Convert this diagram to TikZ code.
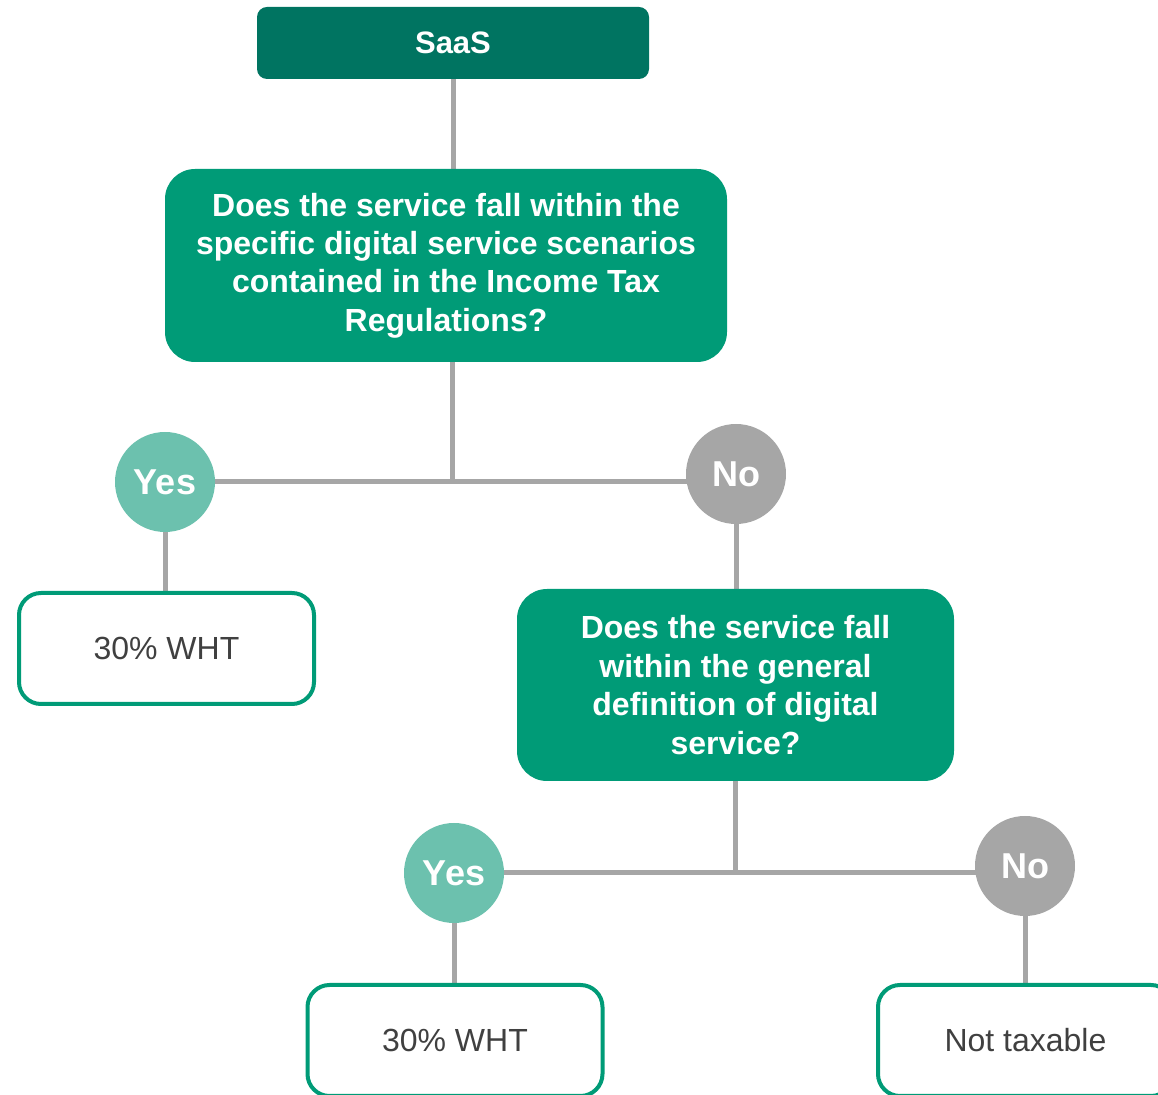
\documentclass[tikz,border=0pt]{standalone}
\usepackage{fontspec}
\setmainfont{Liberation Sans}
\usetikzlibrary{backgrounds}
\definecolor{saasgreen}{HTML}{007461}
\definecolor{qgreen}{HTML}{009B77}
\definecolor{yesgreen}{HTML}{6CC1AE}
\definecolor{nogray}{HTML}{A6A6A6}
\definecolor{linegray}{HTML}{A6A6A6}
\definecolor{txtgray}{HTML}{404040}
\tikzset{
  headbox/.style={fill=saasgreen, rounded corners=5pt, text=white,
    font=\fontsize{15.5}{18}\selectfont\bfseries, inner sep=0pt},
  qbox/.style={fill=qgreen, rounded corners=15pt, text=white, align=center,
    font=\fontsize{16}{19.2}\selectfont\bfseries, inner sep=0pt},
  resbox/.style={draw=qgreen, line width=2pt, fill=white, rounded corners=11pt,
    text=txtgray, font=\fontsize{16}{19}\selectfont,
    minimum width=147.5pt, minimum height=55.5pt, inner sep=0pt},
  yescirc/.style={circle, fill=yesgreen, text=white, minimum size=50pt,
    inner sep=0pt, font=\fontsize{18}{20}\selectfont\bfseries},
  nocirc/.style={circle, fill=nogray, text=white, minimum size=50pt,
    inner sep=0pt, font=\fontsize{18}{20}\selectfont\bfseries},
  link/.style={draw=linegray, line width=2.5pt}
}
\begin{document}
\begin{tikzpicture}[x=0.5pt, y=-0.5pt]
  \useasboundingbox (0,0) rectangle (1158,1095);
  \clip (0,0) rectangle (1158,1095);

  % top of the tree
  \node[headbox, minimum width=196pt, minimum height=36pt] (saas) at (453,43) {SaaS};
  \node[qbox, minimum width=281pt, minimum height=96.5pt] (q1) at (446,265.5)
    {Does the service fall within the\\specific digital service scenarios\\contained in the Income Tax\\Regulations?};

  % first split
  \coordinate (j1) at (452,482);
  \node[yescirc] (yes1) at (165,482) {Yes};
  \node[nocirc] (no1) at (736,474) {No};
  \node[resbox] (wht1) at (166.5,648.5) {30\% WHT};

  % second question
  \node[qbox, minimum width=218.5pt, minimum height=96pt] (q2) at (735.5,685)
    {Does the service fall\\within the general\\definition of digital\\service?};

  % second split
  \coordinate (j2) at (735,873);
  \node[yescirc] (yes2) at (454,873) {Yes};
  \node[nocirc] (no2) at (1025,866) {No};
  \node[resbox] (wht2) at (455,1040.5) {30\% WHT};
  \node[resbox] (nottax) at (1025.5,1040.5) {Not taxable};

  \begin{scope}[on background layer]
    \draw[link] (saas.south) -- (saas.south |- q1.north);
    \draw[link] (q1.south -| j1) -- (j1);
    \draw[link] (yes1.center) -- (j1) -- (j1 -| no1.center);
    \draw[link] (yes1.south) -- (yes1.south |- wht1.north);
    \draw[link] (no1.south) -- (no1.south |- q2.north);
    \draw[link] (q2.south -| j2) -- (j2);
    \draw[link] (yes2.center) -- (j2) -- (j2 -| no2.center);
    \draw[link] (yes2.south) -- (yes2.south |- wht2.north);
    \draw[link] (no2.south) -- (no2.south |- nottax.north);
  \end{scope}
\end{tikzpicture}
\end{document}
